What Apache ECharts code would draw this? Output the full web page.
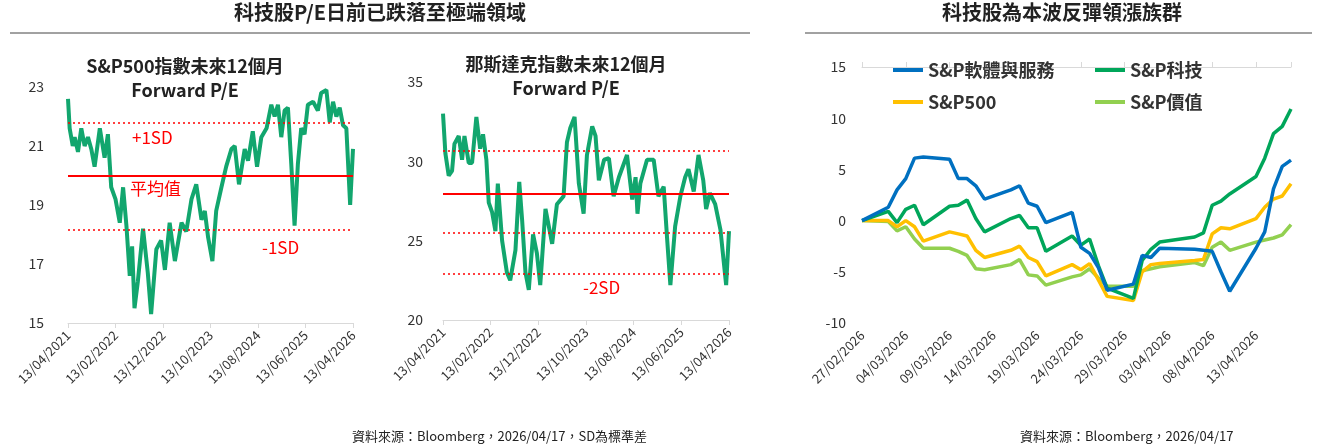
<!DOCTYPE html>
<html><head><meta charset="utf-8">
<script src="https://cdn.jsdelivr.net/npm/echarts@6/dist/echarts.min.js"></script>
<style>html,body{margin:0;padding:0;background:#fff}#c{width:1318px;height:448px}</style>
</head><body><div id="c"></div>
<script>
// S&P500 forward P/E: [month index since 13/04/2021, value]
const spPE = [[0,22.6],[0.35,21.6],[1,21.0],[1.4,21.3],[2.1,20.8],[2.8,21.6],[3.5,21.0],[4.2,21.3],[4.9,20.9],[5.6,20.3],[6.7,21.6],[7.7,20.6],[8.4,21.4],[9.1,19.6],[10,19.2],[10.9,18.4],[11.6,19.6],[12.3,18.3],[13,16.6],[13.5,17.6],[14,15.5],[14.7,16.4],[15.8,18.2],[16.8,16.7],[17.5,15.3],[18.6,17.5],[19.6,17.8],[20.4,16.8],[21.4,18.4],[22.5,17.1],[23.9,18.4],[24.9,18.1],[26,19.2],[27,19.7],[28.1,18.5],[28.8,18.8],[29.5,17.9],[30.4,17.1],[31.2,18.8],[32.3,19.6],[33.3,20.3],[34.4,20.9],[35.1,21.0],[36,19.7],[37.2,20.9],[37.9,20.5],[38.9,21.5],[39.8,20.3],[40.7,21.3],[41.8,21.6],[42.8,22.4],[43.5,22.0],[44.2,22.4],[44.9,21.3],[45.6,22.2],[46.3,22.3],[47,20.4],[47.7,18.3],[48.4,20.4],[49.1,21.6],[49.8,21.4],[50.5,22.4],[51.6,22.5],[52.6,22.2],[53.3,22.8],[54.4,22.9],[55.1,21.8],[55.8,22.5],[56.5,22.0],[57.2,22.3],[57.9,21.7],[58.6,21.6],[59.4,19.0],[60,20.9]];
const spLines = {plus1: 21.8, mean: 20.0, minus1: 18.15};
// Nasdaq forward P/E
const ndPE = [[0,33.0],[0.5,30.5],[1.2,29.1],[1.9,29.4],[2.4,31.1],[3.3,31.6],[4,30.1],[4.5,31.6],[5.4,29.9],[6.1,29.9],[7,32.8],[7.8,30.8],[8.4,31.7],[9.1,30.1],[9.6,27.4],[10.3,26.8],[11,25.6],[11.5,28.6],[12.4,25.0],[13.4,23.0],[14.1,22.5],[15.2,24.4],[16,28.7],[16.6,26.3],[17.3,23.0],[18,21.9],[18.9,25.4],[19.7,24.2],[20.4,22.2],[21.5,27.0],[22.9,24.8],[23.9,27.3],[25.3,27.8],[26,31.2],[26.7,32.1],[27.6,32.8],[28.5,28.6],[29.5,26.7],[30.2,30.4],[31.3,32.2],[32,31.6],[32.7,28.8],[33.8,30.1],[34.8,30.2],[35.8,27.8],[36.9,29.0],[38.6,30.4],[39.7,27.6],[40.4,29.0],[40.8,26.7],[41.4,28.6],[42.8,30.1],[44.2,30.1],[45.2,27.8],[46.3,28.4],[47,25.2],[47.7,22.2],[48.7,25.9],[49.8,27.8],[50.8,29.0],[51.5,29.5],[52.6,28.1],[53.6,30.4],[54.6,28.8],[55.2,27.0],[56,28.0],[57.1,27.3],[58.2,25.7],[59.4,22.2],[60,25.6]];
const ndLines = {plus1: 30.65, mean: 27.93, minus1: 25.5, minus2: 22.9};
// Rebound chart: trading day offsets since 27/02/2026
const days = [0,3,4,5,6,7,10,11,12,13,14,17,18,19,20,21,24,25,26,27,28,31,32,33,34,38,39,40,41,42,45,46,47,48,49];
const software = [0,1.3,3.0,4.1,6.1,6.2,6.0,4.1,4.1,3.4,2.1,3.0,3.4,1.7,1.4,-0.2,0.8,-2.6,-3.2,-4.6,-6.8,-6.2,-3.4,-3.6,-2.7,-2.8,-2.9,-3.0,-5.0,-6.9,-2.7,-1.1,3.1,5.3,5.9];
const tech = [0,0.9,-0.2,1.1,1.5,-0.4,1.4,1.5,2.0,0.2,-1.1,0.2,0.5,-0.7,-0.7,-3.0,-1.5,-2.4,-1.8,-4.4,-6.6,-7.6,-3.9,-2.8,-2.1,-1.6,-1.2,1.5,1.9,2.6,4.3,6.1,8.5,9.2,10.9];
const sp500 = [0,0.0,-0.6,0.0,-0.6,-2.0,-1.1,-1.3,-1.5,-2.9,-3.6,-2.9,-2.5,-3.6,-4.0,-5.4,-4.3,-4.8,-4.2,-5.8,-7.4,-7.8,-5.0,-4.3,-4.2,-3.9,-3.8,-1.3,-0.7,-0.8,0.2,1.3,2.1,2.4,3.6];
const value = [0,-0.1,-1.0,-0.6,-1.8,-2.7,-2.7,-3.0,-3.4,-4.7,-4.8,-4.3,-3.8,-5.3,-5.4,-6.3,-5.5,-5.3,-4.7,-5.6,-6.4,-6.4,-4.9,-4.7,-4.5,-4.1,-4.4,-2.6,-2.1,-2.9,-2.1,-1.9,-1.7,-1.4,-0.4];
const seriesNames = ['S&P軟體與服務','S&P科技','S&P500','S&P價值'];
const colors = ['#0070C0','#00A65A','#FFC000','#92D050'];

const FONT = '"Noto Sans CJK TC","Noto Sans",sans-serif';
const pad = n => String(n).padStart(2,'0');
const monthLabel = m => { const t = 2021*12+3+Math.round(m); return '13/'+pad(t%12+1)+'/'+Math.floor(t/12); };
const dayLabel = d => { const dt = new Date(Date.UTC(2026,1,27)+d*86400000); return pad(dt.getUTCDate())+'/'+pad(dt.getUTCMonth()+1)+'/'+dt.getUTCFullYear(); };
const zip = (a,b)=>a.map((x,i)=>[x,b[i]]);

const chart = echarts.init(document.getElementById('c'));
const axisLbl = {color:'#333', fontSize:14, fontFamily:FONT};
const xLbl = {color:'#333', fontSize:13, fontFamily:FONT, rotate:45};
function peX(idx){ return {gridIndex:idx, type:'value', min:0, max:60, interval:10,
  axisLine:{lineStyle:{color:'#d9d9d9'}}, axisTick:{show:true,lineStyle:{color:'#d9d9d9'}}, splitLine:{show:false},
  axisLabel:Object.assign({formatter:monthLabel, margin:10}, xLbl)}; }
function ml(vals){ return {silent:true, symbol:'none', label:{show:false},
  data: vals.map(v=>({yAxis:v[0], lineStyle:{color:'#FF0000', width:v[1]?2:1.6, type:v[1]?'solid':[2,3]}}))}; }

chart.setOption({
  animation:false,
  textStyle:{fontFamily:FONT},
  grid:[
    {left:68, width:285, top:87, height:236},
    {left:443, width:286, top:82, height:238},
    {left:862, width:429, top:67, height:256}
  ],
  xAxis:[ peX(0), peX(1),
    {gridIndex:2, type:'value', min:0, max:49, interval:5, position:'bottom',
     axisLine:{show:false}, axisTick:{show:false}, splitLine:{show:false},
     axisLabel:Object.assign({formatter:v=>v<=45?dayLabel(v):'', margin:10}, xLbl)},
    {gridIndex:2, type:'value', min:0, max:49, interval:5,
     axisLine:{onZero:true, lineStyle:{color:'#d9d9d9'}}, axisTick:{show:true, inside:false, lineStyle:{color:'#d9d9d9'}},
     axisLabel:{show:false}, splitLine:{show:false}}
  ],
  yAxis:[
    {gridIndex:0, type:'value', min:15, max:23, interval:2, axisLine:{show:false}, axisTick:{show:false}, splitLine:{show:false}, axisLabel:Object.assign({margin:24},axisLbl)},
    {gridIndex:1, type:'value', min:20, max:35, interval:5, axisLine:{show:false}, axisTick:{show:false}, splitLine:{show:false}, axisLabel:Object.assign({margin:20},axisLbl)},
    {gridIndex:2, type:'value', min:-10, max:15, interval:5, axisLine:{show:false}, axisTick:{show:false}, splitLine:{show:false}, axisLabel:Object.assign({margin:16},axisLbl)}
  ],
  legend: seriesNames.map((n,i)=>({data:[n], left: i%2? 1090:888, top: i<2? 56:88, icon:'rect', itemWidth:30, itemHeight:4,
    textStyle:{fontSize:18, fontWeight:'bold', color:'#333', fontFamily:FONT}, selectedMode:false})),
  series:[
    {type:'line', xAxisIndex:0, yAxisIndex:0, data:spPE, symbol:'none', lineStyle:{color:'#12A66E', width:4}, z:3,
     markLine: ml([[spLines.plus1,0],[spLines.mean,1],[spLines.minus1,0]])},
    {type:'line', xAxisIndex:1, yAxisIndex:1, data:ndPE, symbol:'none', lineStyle:{color:'#12A66E', width:4}, z:3,
     markLine: ml([[ndLines.plus1,0],[ndLines.mean,1],[ndLines.minus1,0],[ndLines.minus2,0]])},
    ...[software,tech,sp500,value].map((arr,i)=>({type:'line', name:seriesNames[i], xAxisIndex:2, yAxisIndex:2,
      data:zip(days,arr), symbol:'none', color:colors[i], lineStyle:{color:colors[i], width:3.5}, z:10-i}))
  ],
  graphic:[
    {type:'text', style:{text:'科技股P/E日前已跌落至極端領域', x:380, y:2, textAlign:'center', fontSize:20, fontWeight:'bold', fill:'#222', fontFamily:FONT}},
    {type:'line', shape:{x1:10,y1:33,x2:750,y2:33}, style:{stroke:'#444', lineWidth:1}},
    {type:'text', style:{text:'科技股為本波反彈領漲族群', x:1062, y:2, textAlign:'center', fontSize:20, fontWeight:'bold', fill:'#222', fontFamily:FONT}},
    {type:'line', shape:{x1:805,y1:33,x2:1312,y2:33}, style:{stroke:'#444', lineWidth:1}},
    {type:'text', style:{text:'S&P500指數未來12個月\nForward P/E', x:185, y:54, textAlign:'center', fontSize:18, lineHeight:24, fontWeight:'bold', fill:'#222', fontFamily:FONT}},
    {type:'text', style:{text:'那斯達克指數未來12個月\nForward P/E', x:566, y:52, textAlign:'center', fontSize:18, lineHeight:24, fontWeight:'bold', fill:'#222', fontFamily:FONT}},
    {type:'text', style:{text:'+1SD', x:132, y:129, fontSize:17, fill:'#FF0000', fontFamily:FONT}},
    {type:'text', style:{text:'平均值', x:130, y:180, fontSize:17, fill:'#FF0000', fontFamily:FONT}},
    {type:'text', style:{text:'-1SD', x:262, y:239, fontSize:17, fill:'#FF0000', fontFamily:FONT}},
    {type:'text', style:{text:'-2SD', x:583, y:279, fontSize:17, fill:'#FF0000', fontFamily:FONT}},
    {type:'text', style:{text:'資料來源：Bloomberg，2026/04/17，SD為標準差', x:352, y:430, fontSize:13, fill:'#222', fontFamily:FONT}},
    {type:'text', style:{text:'資料來源：Bloomberg，2026/04/17', x:1020, y:430, fontSize:13, fill:'#222', fontFamily:FONT}}
  ]
});
</script></body></html>
